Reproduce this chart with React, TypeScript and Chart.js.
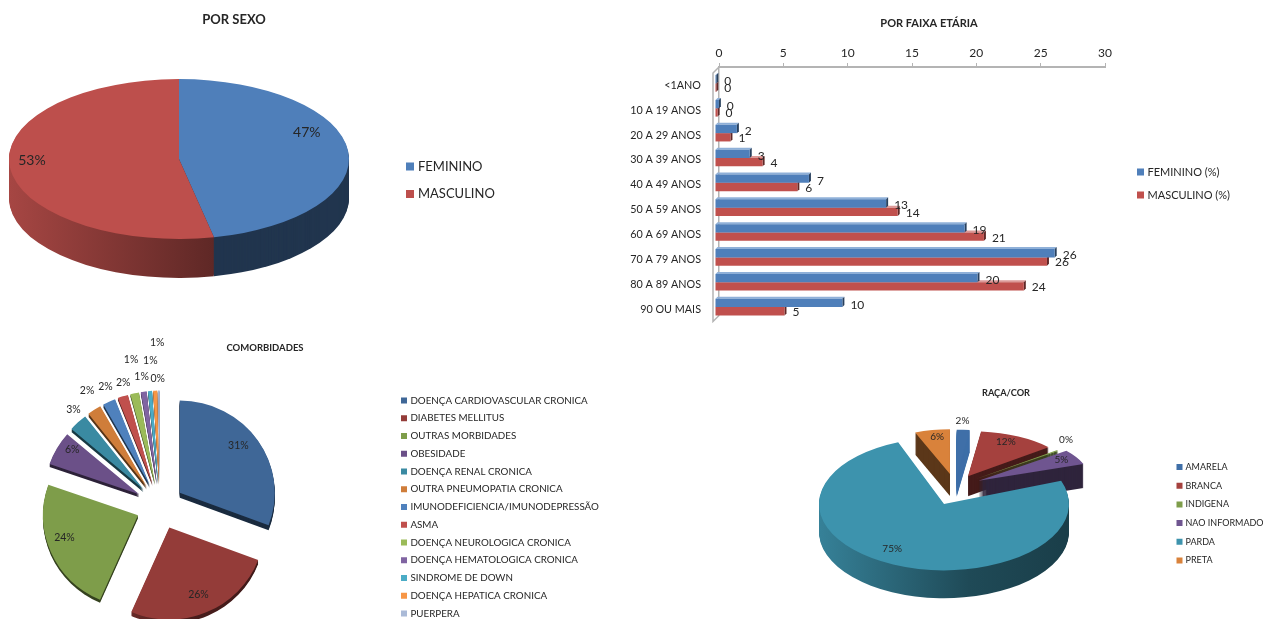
import React, { useEffect, useRef } from "react";
import { Chart, registerables } from "chart.js";

Chart.register(...registerables);

const FONT = "Lato, 'Noto Sans', sans-serif";
const INK = "#262626";

// --- POR SEXO
const sexLabels = ["FEMININO", "MASCULINO"];
const sexValues = [46.7, 53.3];
const sexColors = ["#4f7fba", "#bd4f4c"];

// --- POR FAIXA ETÁRIA
const ageLabels = ["<1ANO", "10 A 19 ANOS", "20 A 29 ANOS", "30 A 39 ANOS", "40 A 49 ANOS", "50 A 59 ANOS", "60 A 69 ANOS", "70 A 79 ANOS", "80 A 89 ANOS", "90 OU MAIS"];
const ageFemale = [0.1, 0.3, 1.7, 2.7, 7.3, 13.3, 19.4, 26.4, 20.4, 9.9];
const ageMale = [0.1, 0.2, 1.2, 3.7, 6.4, 14.2, 20.9, 25.8, 24, 5.4];
const ageTicks = { min: 0, max: 30, step: 5 };

// --- COMORBIDADES
const comorbLabels = ["DOENÇA CARDIOVASCULAR CRONICA", "DIABETES MELLITUS", "OUTRAS MORBIDADES", "OBESIDADE", "DOENÇA RENAL CRONICA", "OUTRA PNEUMOPATIA CRONICA", "IMUNODEFICIENCIA/IMUNODEPRESSÃO", "ASMA", "DOENÇA NEUROLOGICA CRONICA", "DOENÇA HEMATOLOGICA CRONICA", "SINDROME DE DOWN", "DOENÇA HEPATICA CRONICA", "PUERPERA"];
const comorbValues = [31, 26, 24, 6, 3.2, 2.4, 2.2, 1.8, 1.5, 1, 0.7, 0.7, 0.3];
const comorbColors = ["#3f6797", "#943c39", "#7e9d4a", "#6b5088", "#3a8aa2", "#cf7d3a", "#4f81bd", "#c0504d", "#9bbb59", "#8064a2", "#4bacc6", "#f79646", "#aabad7"];

// --- RAÇA/COR
const raceLabels = ["AMARELA", "BRANCA", "INDIGENA", "NAO INFORMADO", "PARDA", "PRETA"];
const raceValues = [2, 12, 0.4, 5, 75, 6];
const raceColors = ["#3f6fa8", "#a5413e", "#7e9d4a", "#6f5590", "#3d93ad", "#d9823b"];

function shade(hex: string, f: number) {
  const n = parseInt(hex.slice(1), 16);
  const c = [(n >> 16) & 255, (n >> 8) & 255, n & 255].map((v) => Math.round(v * f));
  return `rgb(${c[0]},${c[1]},${c[2]})`;
}

// Places the title and legend boxes, and for pies the centre of the pie.
const placePlugin = {
  id: "place",
  afterLayout(chart: any, _a: any, o: any) {
    if (o.center) {
      const [cx, cy] = o.center;
      const R = o.radius;
      chart.chartArea = { left: cx - R, right: cx + R, top: cy - R, bottom: cy + R, width: 2 * R, height: 2 * R };
    }
    const t = chart.titleBlock;
    if (t && o.title) {
      const lh = t.height;
      t.left = o.title[0] - 300;
      t.right = o.title[0] + 300;
      t.top = o.title[1] - lh / 2;
      t.bottom = t.top + lh;
    }
    const l = chart.legend;
    if (l && o.legend) {
      const labels = l.options.labels;
      l.left = o.legend[0] - labels.padding;
      l.right = l.left + 600;
      l.top = o.legend[1] - labels.font.size / 2 - labels.padding;
      l.bottom = l.top + 800;
    }
  },
};

// Each slice gets its own tilt, radius and extrusion, as a perspective view would give it.
function sliceStyle(o: any, i: number) {
  const s = o.slices ? o.slices[i] : null;
  return {
    k: s && s.k !== undefined ? s.k : o.k,
    radius: s && s.radius !== undefined ? s.radius : o.radius,
    dy: s && s.dy !== undefined ? s.dy : 0,
  };
}

function tilt(ctx: any, y: number, k: number, dy: number) {
  ctx.translate(0, y + dy);
  ctx.scale(1, k);
  ctx.translate(0, -y);
}

const pie3dPlugin = {
  id: "pie3d",
  afterDatasetsUpdate(chart: any, _a: any, o: any) {
    chart.getDatasetMeta(0).data.forEach((arc: any, i: number) => {
      const st = sliceStyle(o, i);
      arc.outerRadius = st.radius;
      const half = (arc.startAngle + arc.endAngle) / 2;
      const draw = arc.draw;
      arc.draw = function (ctx: any, area: any) {
        ctx.save();
        tilt(ctx, arc.y, st.k, st.dy);
        ctx.translate(Math.cos(half) * o.explode, Math.sin(half) * o.explode);
        draw.call(arc, ctx, area);
        ctx.restore();
      };
    });
  },
  beforeDatasetsDraw(chart: any, _a: any, o: any) {
    const ctx = chart.ctx;
    const arcs = chart.getDatasetMeta(0).data;
    const colors = chart.data.datasets[0].backgroundColor;
    const order = arcs.map((_: any, i: number) => i).sort((a: number, b: number) => {
      const h = (i: number) => Math.sin((arcs[i].startAngle + arcs[i].endAngle) / 2);
      return h(a) - h(b);
    });
    for (const i of order) {
      const a = arcs[i];
      const st = sliceStyle(o, i);
      const off = o.explode;
      const half = (a.startAngle + a.endAngle) / 2;
      const ax = a.x + Math.cos(half) * off;
      const ay = a.y + Math.sin(half) * off;
      const bottom = Math.PI / 2;
      ctx.save();
      tilt(ctx, a.y, st.k, st.dy);
      const flat = o.sideShades ? o.sideShades[i] : 0.42;
      if (a.startAngle <= bottom && a.endAngle >= bottom) {
        const g = ctx.createLinearGradient(ax - st.radius, 0, ax + st.radius, 0);
        g.addColorStop(0, shade(colors[i], 0.88));
        g.addColorStop(0.6, shade(colors[i], 0.5));
        g.addColorStop(1, shade(colors[i], 0.42));
        ctx.fillStyle = g;
      } else {
        ctx.fillStyle = shade(colors[i], flat);
      }
      const depth = o.depths[i];
      for (let d = depth; d >= 1; d--) {
        ctx.beginPath();
        ctx.moveTo(ax, ay + d / st.k);
        ctx.arc(ax, ay + d / st.k, st.radius, a.startAngle, a.endAngle);
        ctx.closePath();
        ctx.fill();
      }
      ctx.restore();
    }
  },
  afterDatasetsDraw(chart: any, _a: any, o: any) {
    const ctx = chart.ctx;
    const arcs = chart.getDatasetMeta(0).data;
    const values: number[] = chart.data.datasets[0].data;
    const total = values.reduce((s, v) => s + v, 0);
    ctx.save();
    ctx.font = `${o.labelSize}px ${FONT}`;
    ctx.fillStyle = INK;
    ctx.textAlign = "center";
    ctx.textBaseline = "middle";
    arcs.forEach((a: any, i: number) => {
      const st = sliceStyle(o, i);
      const half = (a.startAngle + a.endAngle) / 2;
      const [f, dx, dy] = o.labelPlace[i];
      const rho = o.explode + st.radius * f;
      const x = a.x + Math.cos(half) * rho + dx;
      const y = a.y + st.dy + Math.sin(half) * rho * st.k + dy;
      ctx.fillText(`${Math.round((values[i] / total) * 100)}%`, x, y);
    });
    ctx.restore();
  },
};

// 3D look of the bar chart: back wall edge, bar faces, value labels.
const bar3dPlugin = {
  id: "bar3d",
  beforeDatasetsDraw(chart: any, _a: any, o: any) {
    const ctx = chart.ctx;
    const { left, top, bottom } = chart.chartArea;
    const w = o.wall;
    ctx.save();
    ctx.strokeStyle = "#b4b4b4";
    ctx.lineWidth = 1.5;
    ctx.beginPath();
    ctx.moveTo(left, top);
    ctx.lineTo(left - w, top + w);
    ctx.lineTo(left - w, bottom + w);
    ctx.lineTo(left, bottom);
    ctx.stroke();
    ctx.restore();
    ctx.save();
    ctx.translate(o.shift[0], o.shift[1]);
    for (let s = chart.data.datasets.length - 1; s >= 0; s--) {
      const base = chart.data.datasets[s].backgroundColor;
      for (const b of chart.getDatasetMeta(s).data) {
        const t = b.y - b.height / 2;
        const e = b.y + b.height / 2;
        const d = o.bevel;
        ctx.fillStyle = o.topFaces[s];
        ctx.beginPath();
        ctx.moveTo(b.base, t);
        ctx.lineTo(b.x, t);
        ctx.lineTo(b.x + d, t - d);
        ctx.lineTo(b.base + d, t - d);
        ctx.closePath();
        ctx.fill();
        ctx.fillStyle = shade(base, 0.5);
        ctx.beginPath();
        ctx.moveTo(b.x, t);
        ctx.lineTo(b.x + d, t - d);
        ctx.lineTo(b.x + d, e - d);
        ctx.lineTo(b.x, e);
        ctx.closePath();
        ctx.fill();
      }
    }
  },
  afterDatasetsDraw(chart: any, _a: any, o: any) {
    const ctx = chart.ctx;
    ctx.restore();
    ctx.save();
    ctx.font = `${o.labelSize}px ${FONT}`;
    ctx.fillStyle = INK;
    ctx.textAlign = "left";
    ctx.textBaseline = "middle";
    chart.data.datasets.forEach((ds: any, s: number) => {
      chart.getDatasetMeta(s).data.forEach((b: any, i: number) => {
        ctx.fillText(String(Math.round(ds.data[i])), b.x + o.shift[0] + o.labelGap, b.y + o.shift[1] + o.labelDy[s]);
      });
    });
    ctx.restore();
  },
};

function legendOpts(size: number, padding: number, box: number) {
  return {
    position: "chartArea" as const,
    align: "start" as const,
    labels: {
      color: INK,
      font: { family: FONT, size },
      padding,
      usePointStyle: true,
      pointStyle: "rect",
      boxWidth: 3,
      boxHeight: box,
    },
  };
}

function titleOpts(text: string, size: number) {
  return { display: true, text, color: INK, padding: 0, font: { family: FONT, size, weight: "bold" as const } };
}

function pieConfig(p: any) {
  return {
    type: "pie" as const,
    data: {
      labels: p.labels,
      datasets: [{ data: p.values, backgroundColor: p.colors, borderWidth: 0, clip: false }],
    },
    options: {
      animation: false as const,
      responsive: false,
      radius: p.radius,
      events: [],
      plugins: {
        title: titleOpts(p.title, p.titleSize),
        legend: legendOpts(p.legendSize, p.legendPad, p.legendBox),
        tooltip: { enabled: false },
        place: { center: p.center, radius: p.radius, title: p.titleAt, legend: p.legendAt },
        pie3d: { k: p.k, depths: p.depths, radius: p.radius, explode: p.explode, slices: p.slices, sideShades: p.sideShades, labelSize: p.labelSize, labelPlace: p.labelPlace },
      },
    },
    plugins: [placePlugin, pie3dPlugin],
  };
}

const sexConfig = pieConfig({
  labels: sexLabels, values: sexValues, colors: sexColors, title: "POR SEXO", titleSize: 13, titleAt: [234, 20],
  legendAt: [408.5, 166.5], legendSize: 13, legendPad: 14.5, legendBox: 8, center: [179, 159], radius: 170, k: 0.47, depths: [39, 39],
  explode: 0, labelSize: 14, labelPlace: [[0.75, 1, -20], [0.87, 0, -6]],
});

const comorbConfig = pieConfig({
  labels: comorbLabels, values: comorbValues, colors: comorbColors, title: "COMORBIDADES", titleSize: 9.5, titleAt: [265, 13],
  legendAt: [402.5, 65.5], legendSize: 9.8, legendPad: 7.95, legendBox: 6, center: [160, 171], radius: 95, k: 0.97,
  depths: [5, 4, 3, 3, 3, 3, 3, 2, 2, 2, 2, 2, 1],
  explode: 24, labelSize: 10.5,
  labelPlace: [[0.75, 0, -8], [0.79, 0, 0], [0.845, 0, -9], [0.815, 0, -7], [1.19, 8, 0], [1.25, 6, 0], [1.185, 4, 0], [1.155, 5, 0], [1.37, 4, 0], [1.165, 0, 0], [1.33, 3, 0], [1.525, 4, 0], [1.135, -1, 0]],
});

const raceBack = { k: 0.43, radius: 105, dy: 0 };
const raceConfig = pieConfig({
  labels: raceLabels, values: raceValues, colors: raceColors, title: "RAÇA/COR", titleSize: 9.2, titleAt: [366, 58],
  legendAt: [538, 132], legendSize: 9, legendPad: 9.7, legendBox: 6, center: [315, 151.4], radius: 125, k: 0.48,
  depths: [22, 20, 20, 24, 28, 22],
  slices: [raceBack, raceBack, raceBack, { k: 0.43, radius: 112, dy: 0 }, { k: 0.53, radius: 125, dy: 4.5 }, { k: 0.47, radius: 95, dy: 0 }],
  sideShades: [1, 0.42, 0.45, 0.42, 0.42, 0.42],
  explode: 27, labelSize: 10,
  labelPlace: [[1.19, -2, 0], [0.752, 0, -5], [1.105, 0, -8], [0.85, 0, -1], [0.744, -14, 0], [0.84, 2, 0]],
});

const ageConfig = {
  type: "bar" as const,
  data: {
    labels: ageLabels,
    datasets: [
      { label: "FEMININO (%)", data: ageFemale, backgroundColor: "#4f7fba", barPercentage: 1, categoryPercentage: 0.67, clip: false },
      { label: "MASCULINO (%)", data: ageMale, backgroundColor: "#c0504d", barPercentage: 1, categoryPercentage: 0.67, clip: false },
    ],
  },
  options: {
    animation: false as const,
    responsive: false,
    indexAxis: "y" as const,
    events: [],
    layout: { padding: { left: 0, right: 167, top: 0, bottom: 17 } },
    scales: {
      x: {
        position: "top" as const,
        min: ageTicks.min,
        max: ageTicks.max,
        afterFit: (s: any) => { s.height = 67 - 13.2; },
        ticks: { stepSize: ageTicks.step, color: INK, padding: 3, font: { family: FONT, size: 12 } },
        grid: { drawOnChartArea: false, drawTicks: true, tickLength: 4, color: "#b4b4b4" },
        border: { color: "#b4b4b4", width: 2 },
      },
      y: {
        afterFit: (s: any) => { s.width = 99; },
        ticks: { color: INK, padding: 18, labelOffset: 6, autoSkip: false, font: { family: FONT, size: 10.8 } },
        grid: { display: false, drawTicks: false },
        border: { color: "#b4b4b4", width: 1.5 },
      },
    },
    plugins: {
      title: titleOpts("POR FAIXA ETÁRIA", 11),
      legend: legendOpts(11, 12, 7),
      tooltip: { enabled: false },
      place: { title: [309, 23], legend: [519, 172] },
      bar3d: { wall: 6, shift: [-4, 4], bevel: 2, topFaces: ["#8fb0d8", "#dc9a98"], labelSize: 12, labelGap: 8, labelDy: [2, 1] },
    },
  },
  plugins: [placePlugin, bar3dPlugin],
};

function Panel({ config, left, top, width, height }: { config: any; left: number; top: number; width: number; height: number }) {
  const ref = useRef<HTMLCanvasElement>(null);
  useEffect(() => {
    const chart = new Chart(ref.current as HTMLCanvasElement, config);
    return () => chart.destroy();
  }, [config]);
  return <canvas ref={ref} width={width} height={height} style={{ position: "absolute", left, top, width, height, display: "block" }} />;
}

export default function App() {
  return (
    <div style={{ position: "absolute", left: 0, top: 0, width: 1272, height: 619, overflow: "hidden", background: "#fff" }}>
      <Panel config={sexConfig} left={0} top={0} width={620} height={335} />
      <Panel config={ageConfig} left={620} top={0} width={652} height={340} />
      <Panel config={comorbConfig} left={0} top={335} width={640} height={284} />
      <Panel config={raceConfig} left={640} top={335} width={632} height={284} />
    </div>
  );
}
